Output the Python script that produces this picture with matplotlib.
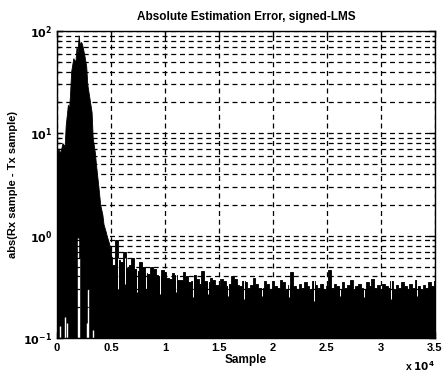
import numpy as np
import matplotlib.pyplot as plt
from matplotlib.ticker import FixedLocator, FuncFormatter, LogLocator, NullFormatter

plt.rcParams["font.family"] = ["Liberation Sans", "DejaVu Sans"]
plt.rcParams["font.weight"] = "bold"
plt.rcParams["mathtext.default"] = "bf"

# upper envelope of the error burst (sample index, abs error)
burst_x = [0, 100, 300, 500, 700, 800, 1000, 1100, 1200, 1300, 1500, 1700, 1800,
           1900, 2000, 2100, 2200, 2300, 2500, 2700, 2800, 3000, 3200, 3300, 3500,
           3600, 3800, 4000, 4200, 4300, 4500, 4600, 4800, 5000]
burst_y = [6.0, 7.0, 6.5, 8.0, 7.5, 12, 19, 17, 24, 40, 54, 50, 70,
           62, 90, 72, 78, 75, 60, 45, 30, 22, 16, 9, 6.5,
           5, 3.2, 2.0, 1.6, 1.3, 1.1, 1.0, 0.85, 0.7]

# steady-state noise tops after convergence (read every 250 samples)
noise_x = np.arange(5000, 35001, 250)
noise_y = [0.62, 0.52, 0.90, 0.58, 0.55, 0.70, 0.48, 0.52, 0.60, 0.47,
           0.45, 0.56, 0.50, 0.43, 0.42, 0.49, 0.47, 0.41, 0.40, 0.46,
           0.44, 0.39, 0.38, 0.43, 0.41, 0.37, 0.37, 0.44, 0.40, 0.35,
           0.36, 0.41, 0.38, 0.34, 0.45, 0.36, 0.35, 0.39, 0.37, 0.33,
           0.33, 0.38, 0.36, 0.32, 0.34, 0.40, 0.38, 0.33, 0.32, 0.36,
           0.35, 0.31, 0.33, 0.39, 0.34, 0.31, 0.31, 0.36, 0.34, 0.30,
           0.36, 0.32, 0.31, 0.37, 0.35, 0.30, 0.33, 0.44, 0.32, 0.30,
           0.34, 0.31, 0.35, 0.32, 0.30, 0.36, 0.33, 0.31, 0.34, 0.30,
           0.32, 0.46, 0.31, 0.34, 0.32, 0.30, 0.35, 0.31, 0.33, 0.37,
           0.30, 0.32, 0.34, 0.31, 0.30, 0.35, 0.32, 0.38, 0.31, 0.33,
           0.30, 0.34, 0.32, 0.31, 0.36, 0.30, 0.33, 0.31, 0.35, 0.32,
           0.30, 0.34, 0.31, 0.37, 0.32, 0.30, 0.33, 0.31, 0.35, 0.32,
           0.36]
# lowest dips of the noise band
dip_x = [5600, 6300, 7400, 8200, 9500, 11000, 12600, 14000, 15800, 17300,
         19000, 21500, 23800, 26200, 28400, 30900, 33300]
dip_y = [0.30, 0.34, 0.28, 0.30, 0.27, 0.28, 0.25, 0.27, 0.26, 0.24,
         0.26, 0.25, 0.23, 0.26, 0.25, 0.24, 0.26]

# white gaps inside the burst where the error got small
gap_x = [250, 700, 900, 1950, 2050, 2800, 2900, 3350]
gap_y = [0.13, 0.16, 0.14, 0.95, 0.6, 0.14, 0.3, 0.12]

x_ticks = [0, 5000, 10000, 15000, 20000, 25000, 30000, 35000]

fig = plt.figure(figsize=(4.46, 3.72), dpi=100)
ax = fig.add_axes([0.128, 0.091, 0.847, 0.826])

ax.fill_between(burst_x, 0.1, burst_y, color="black", lw=0.6)
ax.fill_between(noise_x, 0.1, noise_y, step="mid", color="black", lw=0.6)
ax.vlines(noise_x, 0.1, noise_y, color="black", lw=0.8)
ax.vlines(dip_x, dip_y, 0.6, color="white", lw=0.7)
ax.vlines(gap_x, 0.1, gap_y, color="white", lw=1.0)

ax.set_yscale("log")
ax.set_xlim(0, 35000)
ax.set_ylim(0.1, 100)

ax.xaxis.set_major_locator(FixedLocator(x_ticks))
ax.xaxis.set_major_formatter(FuncFormatter(lambda v, p: f"{v / 1e4:g}"))
ax.yaxis.set_major_locator(LogLocator(base=10, numticks=10))
ax.yaxis.set_minor_locator(LogLocator(base=10, subs=np.arange(2, 10), numticks=10))
ax.yaxis.set_minor_formatter(NullFormatter())
ax.yaxis.set_major_formatter(FuncFormatter(lambda v, p: r"$\mathbf{10^{%d}}$" % round(np.log10(v))))

ax.grid(True, which="major", axis="x", color="black", ls=(0, (4, 3)), lw=0.9)
ax.grid(True, which="both", axis="y", color="black", ls=(0, (4, 3)), lw=0.9)
ax.set_axisbelow(False)

ax.tick_params(which="both", direction="in", top=True, right=True, labelsize=8, width=1)
ax.tick_params(which="major", length=4)
ax.tick_params(which="minor", length=2)
for s in ax.spines.values():
    s.set_linewidth(1.0)

ax.set_title("Absolute Estimation Error, signed-LMS", fontsize=8.5, fontweight="bold", pad=8)
ax.set_xlabel("Sample", fontsize=8.5, fontweight="bold", labelpad=1)
ax.set_ylabel("abs(Rx sample - Tx sample)", fontsize=8, fontweight="bold", labelpad=4)
ax.text(1.0, -0.068, r"x $\mathbf{10^{4}}$", transform=ax.transAxes, ha="right", va="top",
        fontsize=7.5, fontweight="bold")

fig.savefig("out.png", dpi=100)
